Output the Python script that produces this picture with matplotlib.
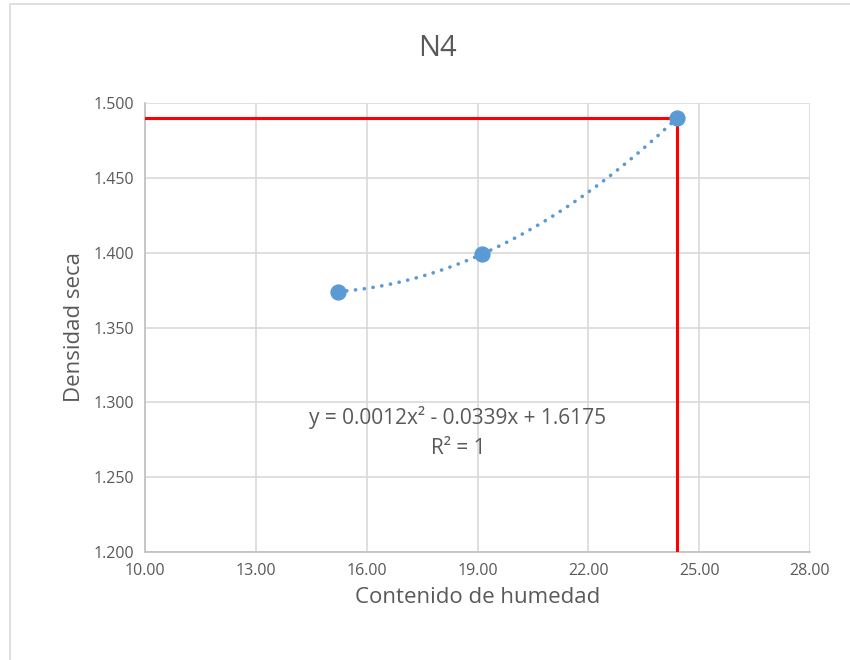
import numpy as np
import matplotlib.pyplot as plt
from matplotlib.patches import Rectangle

# data
humedad = [15.22, 19.12, 24.40]
densidad = [1.374, 1.399, 1.490]
x_ticks = [10, 13, 16, 19, 22, 25, 28]
y_ticks = [1.200, 1.250, 1.300, 1.350, 1.400, 1.450, 1.500]
opt_x = 24.40
opt_y = 1.490
ecuacion = "y = 0.0012x² - 0.0339x + 1.6175\nR² = 1"

plt.rcParams['font.family'] = ['Open Sans', 'DejaVu Sans']
gray = '#595959'

fig = plt.figure(figsize=(8.5, 6.6), dpi=100)
ax = fig.add_axes([145 / 850, 1 - 552 / 660, 665 / 850, 449 / 660])

# chart frame
fig.patches.append(Rectangle((10 / 850, -0.01), 1.0, 1 - 4 / 660 + 0.01,
                             transform=fig.transFigure, fill=False,
                             edgecolor='#D9D9D9', linewidth=1.2))

# trendline (2nd order polynomial)
coef = np.polyfit(humedad, densidad, 2)
xs = np.linspace(min(humedad), max(humedad), 300)
ax.plot(xs, np.polyval(coef, xs), color='#5B9BD5', linestyle=(0, (0.05, 2.4)),
        linewidth=2.6, dash_capstyle='round', zorder=3)

ax.scatter(humedad, densidad, s=115, color='#5B9BD5', zorder=4)

# red guide lines
ax.plot([10, opt_x], [opt_y, opt_y], color='#FF0000', linewidth=2.2, zorder=3)
ax.plot([opt_x, opt_x], [1.2, opt_y], color='#FF0000', linewidth=2.2, zorder=3)

ax.set_xlim(10, 28)
ax.set_ylim(1.2, 1.5)
ax.set_xticks(x_ticks)
ax.set_yticks(y_ticks)
ax.set_xticklabels([f"{v:.2f}" for v in x_ticks])
ax.set_yticklabels([f"{v:.3f}" for v in y_ticks])
ax.tick_params(length=0, labelsize=11.5, colors=gray, pad=8)
ax.grid(True, color='#D9D9D9', linewidth=1.2)
ax.set_axisbelow(True)
for side in ['top', 'right']:
    ax.spines[side].set_visible(False)
for side in ['left', 'bottom']:
    ax.spines[side].set_color('#BFBFBF')
    ax.spines[side].set_linewidth(1.2)

ax.set_xlabel("Contenido de humedad", fontsize=16, color=gray, labelpad=6)
ax.set_ylabel("Densidad seca", fontsize=16, color=gray, labelpad=6)
fig.text(437 / 850, 1 - 48 / 660, "N4", fontsize=21, color=gray, ha='center', va='center')

ax.text(18.47, 1.280, ecuacion, fontsize=15, color=gray, ha='center', va='center',
        linespacing=1.55)

fig.savefig("out.png", dpi=100)
